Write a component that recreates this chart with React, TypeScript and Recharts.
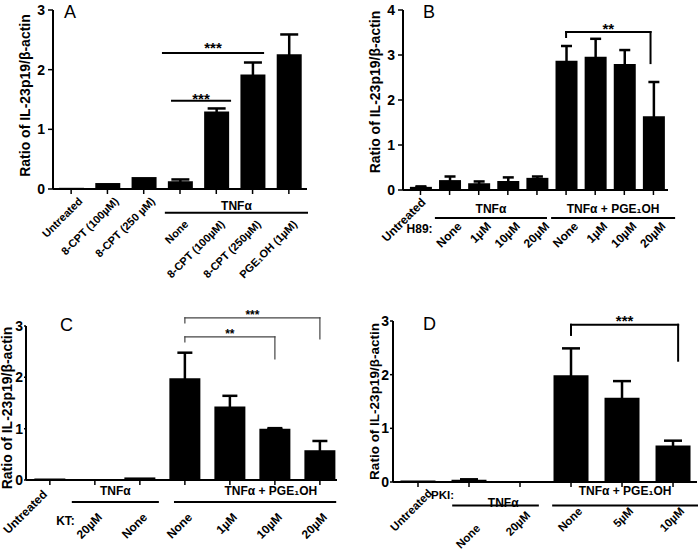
import React from "react";
import { BarChart, Bar, XAxis, YAxis, ErrorBar, ReferenceLine, ReferenceDot } from "recharts";

const FONT = '"Liberation Sans", Arial, sans-serif';
const Y_TITLE = "Ratio of IL-23p19/β-actin";
const TICK = 5;

// panel A
const labelsA = ["Untreated", "8-CPT (100µM)", "8-CPT (250 µM)", "None", "8-CPT (100µM)", "8-CPT (250µM)", "PGE₁OH (1µM)"];
const valuesA = [0.02, 0.1, 0.2, 0.13, 1.3, 1.92, 2.26];
const errorsA = [0, 0, 0, 0.03, 0.05, 0.2, 0.33];
const groupsA = [{ text: "TNFα", from: 2.61, to: 6.5, y: -0.4, textY: -0.35 }];
const sigA = [
  { text: "***", from: 2.53, to: 5.29, y: 2.28, textY: 2.28 },
  { text: "***", from: 2.78, to: 4.38, y: 1.48, textY: 1.42 },
];

// panel B
const labelsB = ["Untreated", "None", "1µM", "10µM", "20µM", "None", "1µM", "10µM", "20µM"];
const valuesB = [0.07, 0.22, 0.15, 0.2, 0.27, 2.87, 2.96, 2.8, 1.64];
const errorsB = [0.01, 0.08, 0.04, 0.08, 0.03, 0.33, 0.4, 0.31, 0.76];
const groupsB = [
  { text: "TNFα", from: 0.53, to: 4.31, y: -0.62, textY: -0.51 },
  { text: "TNFα + PGE₁OH", from: 4.52, to: 8.71, y: -0.62, textY: -0.51 },
];
const sigB = [{ text: "**", from: 5, to: 7.9, y: 3.51, fromEnd: 3.4, toEnd: 2.82, textY: 3.46 }];

// panel C
const labelsC = ["Untreated", "20µM", "None", "None", "1µM", "10µM", "20µM"];
const valuesC = [0.03, 0.02, 0.05, 1.98, 1.43, 1.0, 0.58];
const errorsC = [0, 0, 0, 0.5, 0.21, 0.01, 0.18];
const groupsC = [
  { text: "TNFα", from: 0.51, to: 2.4, y: -0.43, textY: -0.29 },
  { text: "TNFα + PGE₁OH", from: 2.78, to: 6.34, y: -0.43, textAt: 4.91, textY: -0.29 },
];
const sigC = [
  { text: "***", from: 3, to: 6, y: 3.16, fromEnd: 3.06, toEnd: 2.75, textY: 3.14 },
  { text: "**", from: 3, to: 5, y: 2.79, fromEnd: 2.69, toEnd: 2.36, textY: 2.77 },
];

// panel D
const labelsD = ["Untreated", "None", "20µM", "None", "5µM", "10µM"];
const valuesD = [0.03, 0.04, 0.02, 1.99, 1.57, 0.68];
const errorsD = [0, 0.01, 0, 0.5, 0.31, 0.09];
const groupsD = [
  { text: "TNFα", from: 0.69, to: 2.35, y: -0.44, textAt: 1.67, textY: -0.46 },
  { text: "TNFα + PGE₁OH", from: 2.65, to: 5.47, y: -0.44, textY: -0.24 },
];
const sigD = [{ text: "***", from: 3, to: 5.1, y: 2.93, fromEnd: 2.74, toEnd: 2.26, textY: 2.91 }];

const panels = [
  {
    key: "A", left: 0, top: 0, width: 350, height: 300,
    margin: { top: 10, right: 43, bottom: 81, left: 0 }, yWidth: 53,
    xDomain: [-0.5, 6.5], yDomain: [0, 3], yTicks: [0, 1, 2, 3],
    barSize: 25, capWidth: 9,
    labels: labelsA, values: valuesA, errors: errorsA, groups: groupsA, sigs: sigA,
    tickFont: 11, tickOffset: (i) => (i < 3 ? [12, 13] : [9, 36]),
    yTickSize: 5, yTickMargin: 3, yTitleX: 25, yTitleDy: -4, yTitleFont: 14,
    letter: { x: 64, y: 3 }, groupFont: 12, starFont: 15, sigStroke: "#000", sigWidth: 2,
  },
  {
    key: "B", left: 350, top: 0, width: 350, height: 280,
    margin: { top: 10, right: 32, bottom: 60, left: 0 }, yWidth: 53,
    xDomain: [-0.6, 8.5], yDomain: [0, 4], yTicks: [0, 1, 2, 3, 4],
    barSize: 22, capWidth: 5.5,
    labels: labelsB, values: valuesB, errors: errorsB, groups: groupsB, sigs: sigB,
    tickFont: 12, tickOffset: (i) => (i === 0 ? [6, 13] : [13, 37]),
    prefix: { text: "H89:", dx: -17, dy: 43 },
    yTickSize: 5, yTickMargin: 3, yTitleX: 25, yTitleDy: -8, yTitleFont: 14,
    letter: { x: 423, y: 3 }, groupFont: 12, starFont: 15, sigStroke: "#000", sigWidth: 2,
  },
  {
    key: "C", left: 0, top: 280, width: 350, height: 272,
    margin: { top: 46, right: 13, bottom: 42, left: 0 }, yWidth: 26,
    xDomain: [-0.53, 6.38], yDomain: [0, 3], yTicks: [0, 1, 2, 3],
    barSize: 31, capWidth: 7.5,
    labels: labelsC, values: valuesC, errors: errorsC, groups: groupsC, sigs: sigC,
    tickFont: 12, tickOffset: (i) => (i === 0 ? [-2, 15] : [8, 38]),
    prefix: { text: "KT:", dx: -20, dy: 45 },
    yTickSize: 2, yTickMargin: 1, yTitleX: 7, yTitleDy: 5, yTitleFont: 14,
    letter: { x: 60, y: 316 }, groupFont: 12, starFont: 12, sigStroke: "#444", sigWidth: 1.2,
  },
  {
    key: "D", left: 350, top: 280, width: 350, height: 272,
    margin: { top: 41, right: 3, bottom: 40, left: 0 }, yWidth: 43,
    xDomain: [-0.49, 5.47], yDomain: [0, 3], yTicks: [0, 1, 2, 3],
    barSize: 35, capWidth: 9,
    labels: labelsD, values: valuesD, errors: errorsD, groups: groupsD, sigs: sigD,
    tickFont: 11.5,
    tickOffset: (i) => (i === 0 ? [15, 12] : i === 1 ? [12, 47] : i === 2 ? [11, 34] : [12, 30]),
    prefix: { text: "PKI:", dx: -15, dy: 17 },
    yTickSize: 3, yTickMargin: 1, yTitleX: 24, yTitleDy: 0, yTitleFont: 13.5,
    letter: { x: 423, y: 315 }, groupFont: 12, starFont: 15, sigStroke: "#000", sigWidth: 2,
  },
];

const seg = (key, x1, y1, x2, y2, stroke, width) => (
  <ReferenceLine
    key={key}
    segment={[{ x: x1, y: y1 }, { x: x2, y: y2 }]}
    stroke={stroke}
    strokeWidth={width}
    strokeLinecap="square"
    ifOverflow="visible"
  />
);

const note = (key, x, y, text, size) => (
  <ReferenceDot
    key={key}
    x={x}
    y={y}
    r={0}
    fill="none"
    stroke="none"
    ifOverflow="visible"
    label={(p) => {
      const vb = p.viewBox || {};
      return (
        <text
          x={vb.x + (vb.width || 0) / 2}
          y={vb.y + (vb.height || 0) / 2}
          textAnchor="middle"
          fontSize={size}
          fontWeight="bold"
          fontFamily={FONT}
          fill="#000"
        >
          {text}
        </text>
      );
    }}
  />
);

function Panel({ cfg }) {
  const data = cfg.labels.map((label, i) => ({ x: i, label, value: cfg.values[i], err: cfg.errors[i] }));
  const ticks = cfg.labels.map((_, i) => i);

  const renderTick = (props) => {
    const { x, y, payload } = props;
    const i = Number(payload.value);
    const [dx, dy] = cfg.tickOffset(i);
    const ax = x + dx;
    const ay = y - TICK + dy;
    return (
      <g>
        <text
          x={ax}
          y={ay}
          textAnchor="end"
          transform={`rotate(-45 ${ax} ${ay})`}
          fontSize={cfg.tickFont}
          fontWeight="bold"
          fontFamily={FONT}
          fill="#000"
        >
          {cfg.labels[i]}
        </text>
        {i === 1 && cfg.prefix ? (
          <text
            x={x + cfg.prefix.dx}
            y={y - TICK + cfg.prefix.dy}
            textAnchor="end"
            fontSize={cfg.tickFont}
            fontWeight="bold"
            fontFamily={FONT}
            fill="#000"
          >
            {cfg.prefix.text}
          </text>
        ) : null}
      </g>
    );
  };

  const marks = [];
  cfg.groups.forEach((g, k) => {
    marks.push(seg(`g${k}`, g.from, g.y, g.to, g.y, "#000", 2));
    marks.push(note(`gt${k}`, g.textAt ?? (g.from + g.to) / 2, g.textY, g.text, cfg.groupFont));
  });
  cfg.sigs.forEach((s, k) => {
    marks.push(seg(`s${k}`, s.from, s.y, s.to, s.y, cfg.sigStroke, cfg.sigWidth));
    if (s.fromEnd !== undefined) marks.push(seg(`sl${k}`, s.from, s.y, s.from, s.fromEnd, cfg.sigStroke, cfg.sigWidth));
    if (s.toEnd !== undefined) marks.push(seg(`sr${k}`, s.to, s.y, s.to, s.toEnd, cfg.sigStroke, cfg.sigWidth));
    marks.push(note(`st${k}`, (s.from + s.to) / 2, s.textY, s.text, cfg.starFont));
  });

  return (
    <div style={{ position: "absolute", left: cfg.left, top: cfg.top, width: cfg.width, height: cfg.height }}>
      <BarChart width={cfg.width} height={cfg.height} data={data} margin={cfg.margin}>
        <XAxis
          type="number"
          dataKey="x"
          domain={cfg.xDomain}
          ticks={ticks}
          interval={0}
          height={30}
          tick={renderTick}
          tickSize={TICK}
          tickMargin={0}
          axisLine={{ stroke: "#000", strokeWidth: 2 }}
          tickLine={{ stroke: "#000", strokeWidth: 1.5 }}
        />
        <YAxis
          type="number"
          domain={cfg.yDomain}
          ticks={cfg.yTicks}
          interval={0}
          width={cfg.yWidth}
          tickSize={cfg.yTickSize}
          tickMargin={cfg.yTickMargin}
          tick={{ fill: "#000", fontSize: 14, fontWeight: "bold", fontFamily: FONT }}
          axisLine={{ stroke: "#000", strokeWidth: 2 }}
          tickLine={{ stroke: "#000", strokeWidth: 1.5 }}
          label={(p) => {
            const vb = p.viewBox || {};
            const cx = (vb.x || 0) + cfg.yTitleX;
            const cy = (vb.y || 0) + (vb.height || 0) / 2 + cfg.yTitleDy;
            return (
              <text
                x={cx}
                y={cy}
                transform={`rotate(-90 ${cx} ${cy})`}
                textAnchor="middle"
                dominantBaseline="central"
                fontSize={cfg.yTitleFont}
                fontWeight="bold"
                fontFamily={FONT}
                fill="#000"
              >
                {Y_TITLE}
              </text>
            );
          }}
        />
        <Bar dataKey="value" fill="#000" barSize={cfg.barSize} isAnimationActive={false}>
          <ErrorBar
            dataKey="err"
            direction="y"
            width={cfg.capWidth}
            stroke="#000"
            strokeWidth={2.5}
            isAnimationActive={false}
          />
        </Bar>
        {marks}
      </BarChart>
    </div>
  );
}

export default function App() {
  return (
    <div style={{ position: "absolute", left: 0, top: 0, width: 700, height: 552, background: "#fff", overflow: "hidden" }}>
      <style>{`.recharts-surface{overflow:visible}`}</style>
      {panels.map((cfg) => (
        <Panel key={cfg.key} cfg={cfg} />
      ))}
      {panels.map((cfg) => (
        <div
          key={`l${cfg.key}`}
          style={{
            position: "absolute",
            left: cfg.letter.x,
            top: cfg.letter.y,
            fontFamily: FONT,
            fontSize: 18,
            lineHeight: "18px",
            color: "#000",
          }}
        >
          {cfg.key}
        </div>
      ))}
    </div>
  );
}
